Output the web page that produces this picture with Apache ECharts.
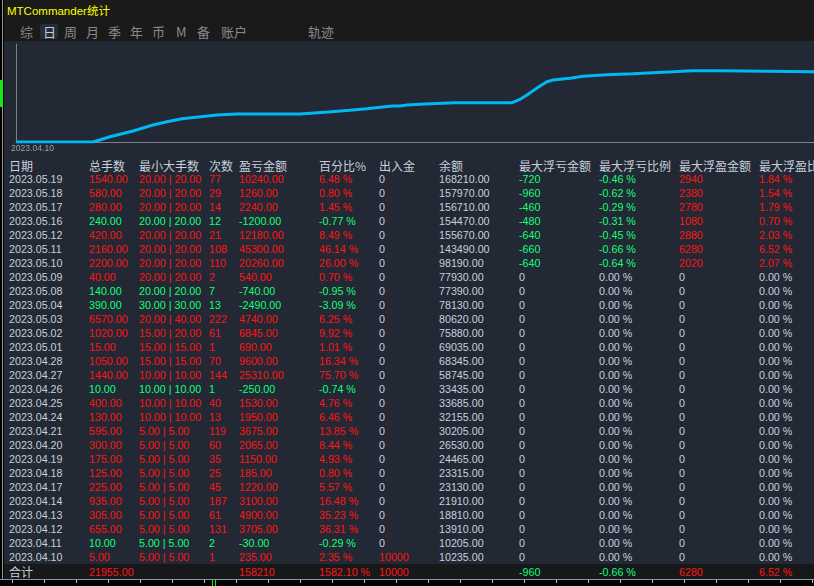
<!DOCTYPE html>
<html><head><meta charset="utf-8">
<script src="https://cdn.jsdelivr.net/npm/echarts@6/dist/echarts.min.js"></script>
<style>
html,body{margin:0;padding:0;}
body{width:814px;height:586px;overflow:hidden;position:relative;background:#222834;
 font-family:"Liberation Sans",Arial,"Noto Sans CJK SC",sans-serif;}
.abs{position:absolute;white-space:nowrap;}
#strip{left:0;top:0;width:4px;height:586px;background:#000;}
#stripLine{left:2px;top:0;width:1px;height:586px;background:#9a9a9a;}
#stripGreen{left:0;top:80px;width:3px;height:27px;background:#19e619;}
#titlebar{left:4px;top:0;width:810px;height:41px;background:#1a1a1a;}
#title{left:7px;top:3px;height:16px;line-height:16px;font-size:11.5px;color:#ffff00;}
.tab{top:24px;height:16px;line-height:16px;font-size:13px;color:#8a8a8a;font-family:"Noto Sans CJK SC",sans-serif;}
#tabSel{left:40px;top:24px;width:18px;height:15px;background:#262d3a;border-radius:2px;}
#chart{left:4px;top:41px;width:810px;height:112px;}
.cell{height:14px;line-height:14px;font-size:10.7px;}
.hdr{height:16px;line-height:16px;font-size:12px;color:#c8d0dc;font-family:"Noto Sans CJK SC",sans-serif;}
#footer{left:4px;top:564px;width:810px;height:15px;background:#171819;}
#bottom{left:0;top:579px;width:814px;height:7px;background:#000;border-top:1px solid #8a96a8;box-sizing:border-box;}
#ticks{left:0;top:580px;width:814px;height:3px;
 background:repeating-linear-gradient(90deg,transparent 0,transparent 12px,#bfc5cc 12px,#bfc5cc 13px,transparent 13px,transparent 32px);}
#gmark{left:212px;top:580px;width:4px;height:6px;border-left:1px solid #19e619;border-right:1px solid #19e619;box-sizing:border-box;}
</style></head>
<body>
<div id="strip" class="abs"></div>
<div id="stripLine" class="abs"></div>
<div id="stripGreen" class="abs"></div>
<div id="titlebar" class="abs"></div>
<div id="title" class="abs">MTCommander统计</div>
<div id="tabSel" class="abs"></div>
<div id="chart" class="abs"></div>
<div id="footer" class="abs"></div>
<div id="bottom" class="abs"></div>
<div id="ticks" class="abs"></div>
<div id="gmark" class="abs"></div>
<script>
// ---- tabs ----
const tabLabels = ['综','日','周','月','季','年','币','M','备','账户','轨迹'];
const tabX = [20,43,64,86,108,130,152,176,197,221,308];

// ---- equity curve ----
const curveX = [0,77,94,117,137,151,166,201,221,284,312,334,351,364,377,384,391,409,439,496,504,511,517,524,531,537,544,554,567,591,617,637,657,676,703,704,798];
const curveV = [0,0,5.3,11,17,20.3,23.3,27,28,28,30,31.7,33.3,34.7,36,36,37,38,39.3,39.3,42.7,47,51.3,56,60.3,62,62.7,63.7,65.7,67.3,68.3,69.3,70.3,71.3,71.3,70.3,70.3];
const curveStartLabel = '2023.04.10';

// ---- table ----
const headers = ['日期','总手数','最小大手数','次数','盈亏金额','百分比%','出入金','余额','最大浮亏金额','最大浮亏比例','最大浮盈金额','最大浮盈比例'];
const dates = ['2023.05.19','2023.05.18','2023.05.17','2023.05.16','2023.05.12','2023.05.11','2023.05.10','2023.05.09','2023.05.08','2023.05.04','2023.05.03','2023.05.02','2023.05.01','2023.04.28','2023.04.27','2023.04.26','2023.04.25','2023.04.24','2023.04.21','2023.04.20','2023.04.19','2023.04.18','2023.04.17','2023.04.14','2023.04.13','2023.04.12','2023.04.11','2023.04.10'];
const totalLots = [1540,580,280,240,420,2160,2200,40,140,390,6570,1020,15,1050,1440,10,400,130,595,300,175,125,225,935,305,655,10,5];
const minLots = [20,20,20,20,20,20,20,20,20,30,20,15,15,15,10,10,10,10,5,5,5,5,5,5,5,5,5,5];
const maxLots = [20,20,20,20,20,20,20,20,20,30,40,20,15,15,10,10,10,10,5,5,5,5,5,5,5,5,5,5];
const counts = [77,29,14,12,21,108,110,2,7,13,222,61,1,70,144,1,40,13,119,60,35,25,45,187,61,131,2,1];
const pnl = [10240,1260,2240,-1200,12180,45300,20260,540,-740,-2490,4740,6845,690,9600,25310,-250,1530,1950,3675,2065,1150,185,1220,3100,4900,3705,-30,235];
const pct = [6.48,0.80,1.45,-0.77,8.49,46.14,26.00,0.70,-0.95,-3.09,6.25,9.92,1.01,16.34,75.70,-0.74,4.76,6.46,13.85,8.44,4.93,0.80,5.57,16.48,35.23,36.31,-0.29,2.35];
const inout = [0,0,0,0,0,0,0,0,0,0,0,0,0,0,0,0,0,0,0,0,0,0,0,0,0,0,0,10000];
const balance = [168210,157970,156710,154470,155670,143490,98190,77930,77390,78130,80620,75880,69035,68345,58745,33435,33685,32155,30205,26530,24465,23315,23130,21910,18810,13910,10205,10235];
const maxFloatLoss = [-720,-960,-460,-480,-640,-660,-640,0,0,0,0,0,0,0,0,0,0,0,0,0,0,0,0,0,0,0,0,0];
const maxFloatLossPct = [-0.46,-0.62,-0.29,-0.31,-0.45,-0.66,-0.64,0,0,0,0,0,0,0,0,0,0,0,0,0,0,0,0,0,0,0,0,0];
const maxFloatProfit = [2940,2380,2780,1080,2880,6280,2020,0,0,0,0,0,0,0,0,0,0,0,0,0,0,0,0,0,0,0,0,0];
const maxFloatProfitPct = [1.84,1.54,1.79,0.70,2.03,6.52,2.07,0,0,0,0,0,0,0,0,0,0,0,0,0,0,0,0,0,0,0,0,0];
const totalRow = ['合计','21955.00','','','158210','1582.10 %','10000','','-960','-0.66 %','6280','6.52 %'];
const totalSign = [0,1,0,0,1,1,1,0,-1,-1,1,1];

const colX = [9,89,139,209,239,319,379,439,519,599,679,759];
const RED = '#ff1414', GREEN = '#14ff78', GRAY = '#c8d0dc';

function add(cls, text, x, cy, h, color){
  const d = document.createElement('div');
  d.className = 'abs ' + cls;
  d.textContent = text;
  d.style.left = x + 'px';
  d.style.top = (cy - h/2) + 'px';
  if (color) d.style.color = color;
  document.body.appendChild(d);
}
tabLabels.forEach((t,i)=>{
  const d=document.createElement('div');d.className='abs tab';d.textContent=t;
  d.style.left=tabX[i]+'px';
  if(i===1) d.style.color='#c8ccd2';
  document.body.appendChild(d);
});
headers.forEach((h,i)=> add('hdr', h, colX[i], 165.5, 16));
dates.forEach((dt,r)=>{
  const cy = 179 + 14*r;
  const c = pnl[r] > 0 ? RED : GREEN;
  const vals = [
    [dt, GRAY],
    [totalLots[r].toFixed(2), c],
    [minLots[r].toFixed(2)+' | '+maxLots[r].toFixed(2), c],
    [String(counts[r]), c],
    [pnl[r].toFixed(2), c],
    [pct[r].toFixed(2)+' %', c],
    [String(inout[r]), inout[r] > 0 ? RED : GRAY],
    [balance[r].toFixed(2), GRAY],
    [String(maxFloatLoss[r]), maxFloatLoss[r] ? GREEN : GRAY],
    [maxFloatLossPct[r].toFixed(2)+' %', maxFloatLossPct[r] ? GREEN : GRAY],
    [String(maxFloatProfit[r]), maxFloatProfit[r] ? RED : GRAY],
    [maxFloatProfitPct[r].toFixed(2)+' %', maxFloatProfitPct[r] ? RED : GRAY]
  ];
  vals.forEach((v,i)=> add('cell', v[0], colX[i], cy, 14, v[1]));
});
totalRow.forEach((t,i)=>{
  if(!t) return;
  if(i===0){ add('hdr', t, colX[i], 571.5, 16, GRAY); return; }
  add('cell', t, colX[i], 571.5, 14, totalSign[i]>0?RED:(totalSign[i]<0?GREEN:GRAY));
});

// ---- chart ----
const chart = echarts.init(document.getElementById('chart'));
chart.setOption({
  animation:false,
  grid:{left:12,right:0,top:3,bottom:10.5},
  xAxis:{type:'value',min:0,max:curveX[curveX.length-1],interval:1000,
    axisLine:{show:true,lineStyle:{color:'#7c8088',width:1}},
    axisTick:{show:false},splitLine:{show:false},
    axisLabel:{show:true,showMaxLabel:false,formatter:v=> v===0?curveStartLabel:'',
      color:'#9aa0aa',fontSize:8.6,fontFamily:'Liberation Sans',align:'left',margin:2,padding:[0,0,0,-5]}},
  yAxis:{type:'value',min:0,max:98,
    axisLine:{show:true,lineStyle:{color:'#7c8088',width:1}},
    axisTick:{show:false},axisLabel:{show:false},splitLine:{show:false}},
  series:[{type:'line',data:curveX.map((x,i)=>[x,curveV[i]]),symbol:'none',
    lineStyle:{color:'#00b8f5',width:3},z:3}]
});
</script>
</body></html>
